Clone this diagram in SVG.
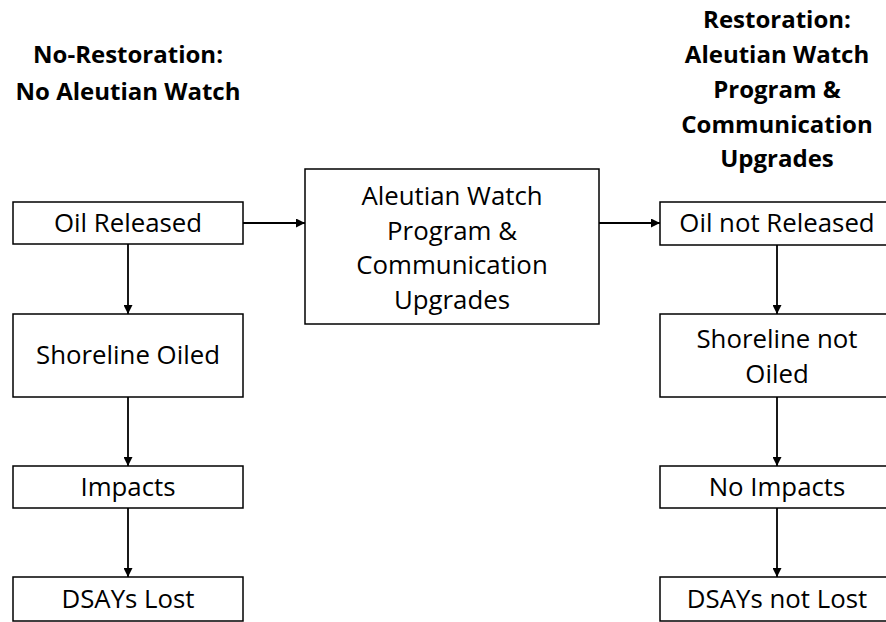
<svg xmlns="http://www.w3.org/2000/svg" width="886" height="622" viewBox="0 0 886 622">
<style>
.box{fill:#fff;stroke:#000;stroke-width:1.5}
.t{font-family:"Open Sans","Liberation Sans",sans-serif;font-size:25.8px;fill:#000;text-anchor:middle}
.h{font-family:"Open Sans","Liberation Sans",sans-serif;font-size:24px;font-weight:bold;fill:#000;text-anchor:middle}
.c{stroke:#000;stroke-width:1.8;fill:none;marker-end:url(#ah)}
</style>
<defs>
<marker id="ah" viewBox="0 0 10 10" refX="10" refY="5" markerWidth="5" markerHeight="5" orient="auto" markerUnits="strokeWidth">
<path d="M0,0 L10,5 L0,10 z" fill="#000"/>
</marker>
</defs>
<rect width="886" height="622" fill="#fff"/>
<g id="header-left">
<text class="h" x="128" y="63">No-Restoration:</text>
<text class="h" x="128" y="100">No Aleutian Watch</text>
</g>
<g id="header-right">
<text class="h" x="777" y="28">Restoration:</text>
<text class="h" x="777" y="63">Aleutian Watch</text>
<text class="h" x="777" y="98">Program &amp;</text>
<text class="h" x="777" y="133">Communication</text>
<text class="h" x="777" y="167">Upgrades</text>
</g>
<g id="connectors">
<line class="c" x1="243" y1="223" x2="305" y2="223"/>
<line class="c" x1="599" y1="223" x2="660" y2="223"/>
<line class="c" x1="128" y1="244" x2="128" y2="314"/>
<line class="c" x1="128" y1="397" x2="128" y2="466"/>
<line class="c" x1="128" y1="508" x2="128" y2="577"/>
<line class="c" x1="777" y1="245" x2="777" y2="314"/>
<line class="c" x1="777" y1="397" x2="777" y2="466"/>
<line class="c" x1="777" y1="508" x2="777" y2="577"/>
</g>
<g id="oil-released">
<rect class="box" x="13" y="202" width="230" height="42"/>
<text class="t" x="128" y="232">Oil Released</text>
</g>
<g id="shoreline-oiled">
<rect class="box" x="13" y="314" width="230" height="83"/>
<text class="t" x="128" y="364">Shoreline Oiled</text>
</g>
<g id="impacts">
<rect class="box" x="13" y="466" width="230" height="42"/>
<text class="t" x="128" y="496">Impacts</text>
</g>
<g id="dsays-lost">
<rect class="box" x="13" y="577" width="230" height="44"/>
<text class="t" x="128" y="608">DSAYs Lost</text>
</g>
<g id="aleutian-watch">
<rect class="box" x="305" y="169" width="294" height="155"/>
<text class="t" x="452" y="205">Aleutian Watch</text>
<text class="t" x="452" y="240">Program &amp;</text>
<text class="t" x="452" y="274">Communication</text>
<text class="t" x="452" y="309">Upgrades</text>
</g>
<g id="oil-not-released">
<rect class="box" x="660" y="202" width="232" height="43"/>
<text class="t" x="777" y="232">Oil not Released</text>
</g>
<g id="shoreline-not-oiled">
<rect class="box" x="660" y="314" width="232" height="83"/>
<text class="t" x="777" y="348">Shoreline not</text>
<text class="t" x="777" y="383">Oiled</text>
</g>
<g id="no-impacts">
<rect class="box" x="660" y="466" width="232" height="42"/>
<text class="t" x="777" y="496">No Impacts</text>
</g>
<g id="dsays-not-lost">
<rect class="box" x="660" y="577" width="232" height="44"/>
<text class="t" x="777" y="608">DSAYs not Lost</text>
</g>
</svg>
